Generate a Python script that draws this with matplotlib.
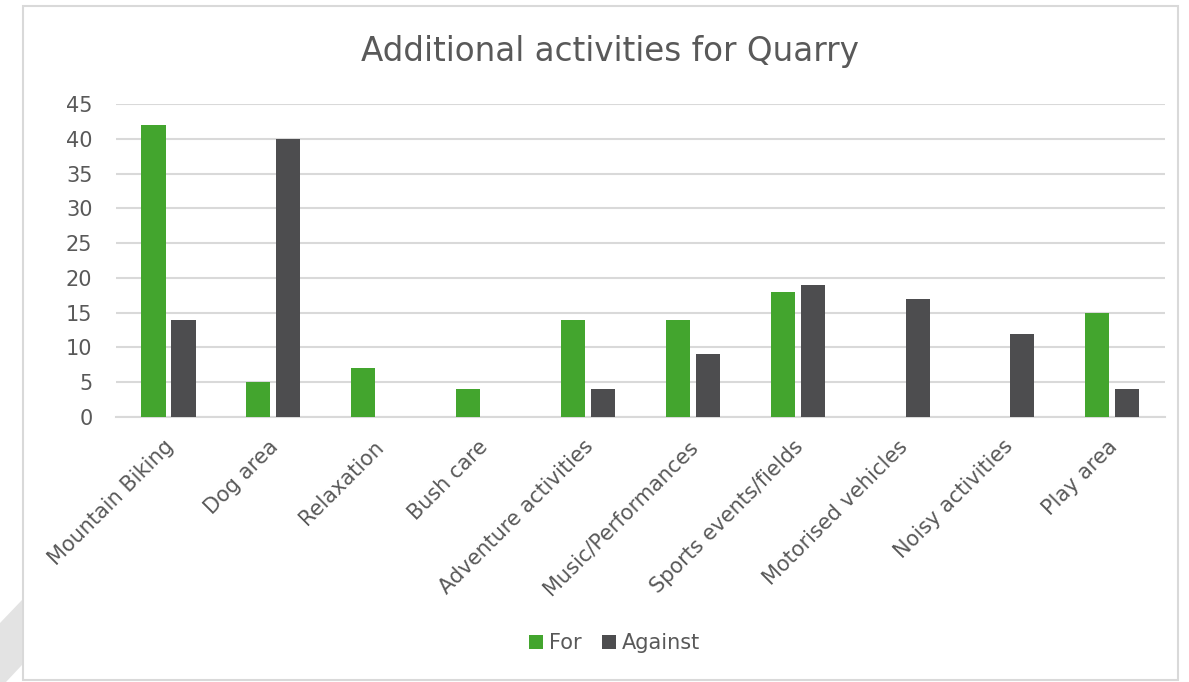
import numpy as np
import matplotlib.pyplot as plt
import matplotlib.transforms as mtrans
from matplotlib.patches import Rectangle, Polygon

categories = ['Mountain Biking', 'Dog area', 'Relaxation', 'Bush care',
              'Adventure activities', 'Music/Performances', 'Sports events/fields',
              'Motorised vehicles', 'Noisy activities', 'Play area']
for_vals = [42, 5, 7, 4, 14, 14, 18, 0, 0, 15]
against_vals = [14, 40, 0, 0, 4, 9, 19, 17, 12, 4]
yticks = [0, 5, 10, 15, 20, 25, 30, 35, 40, 45]

green = '#43a52e'
dark = '#4d4d4f'
txt = '#595959'

fig = plt.figure(figsize=(11.89, 6.82), dpi=100)
ax = fig.add_axes([0.0976, 0.3886, 0.882, 0.4589])

x = np.arange(len(categories))
w = 0.23
ax.bar(x - 0.143, for_vals, w, color=green, label='For', zorder=3)
ax.bar(x + 0.143, against_vals, w, color=dark, label='Against', zorder=3)

ax.set_xlim(-0.5, len(categories) - 0.5)
ax.set_ylim(0, 45)
ax.set_yticks(yticks)
ax.yaxis.grid(True, color='#d9d9d9', linewidth=1.5, zorder=0)
for s in ['top', 'right', 'left']:
    ax.spines[s].set_visible(False)
ax.spines['bottom'].set_color('#d9d9d9')
ax.spines['bottom'].set_linewidth(1.5)
ax.tick_params(axis='both', length=0, labelsize=15, colors=txt)
ax.tick_params(axis='y', pad=17)
ax.tick_params(axis='x', pad=14)
ax.set_xticks(x)
ax.set_xticklabels(categories, rotation=45, ha='right', rotation_mode='anchor')
shift = mtrans.ScaledTranslation(-5 / 100, 0, fig.dpi_scale_trans)
for lbl in ax.get_xticklabels():
    lbl.set_transform(lbl.get_transform() + shift)

fig.text(0.513, 0.925, 'Additional activities for Quarry', ha='center', va='center',
         fontsize=23.5, color=txt)

leg = fig.legend(loc='center', bbox_to_anchor=(0.517, 0.057), ncol=2, frameon=False,
                 fontsize=15, handlelength=0.65, handleheight=0.65, handletextpad=0.3,
                 columnspacing=1.0)
for t in leg.get_texts():
    t.set_color(txt)

# chart border and page decoration
fig.patches.append(Rectangle((23 / 1189, 2 / 682), 1155 / 1189, 674 / 682,
                             transform=fig.transFigure, fill=False,
                             edgecolor='#d9d9d9', linewidth=1.5))
fig.patches.append(Polygon([(0, 59 / 682), (22 / 1189, 82 / 682), (22 / 1189, 17 / 682),
                            (6 / 1189, 0), (0, 0)], closed=True,
                           transform=fig.transFigure, facecolor='#e3e3e3',
                           edgecolor='none'))

plt.savefig('out.png', dpi=100)
